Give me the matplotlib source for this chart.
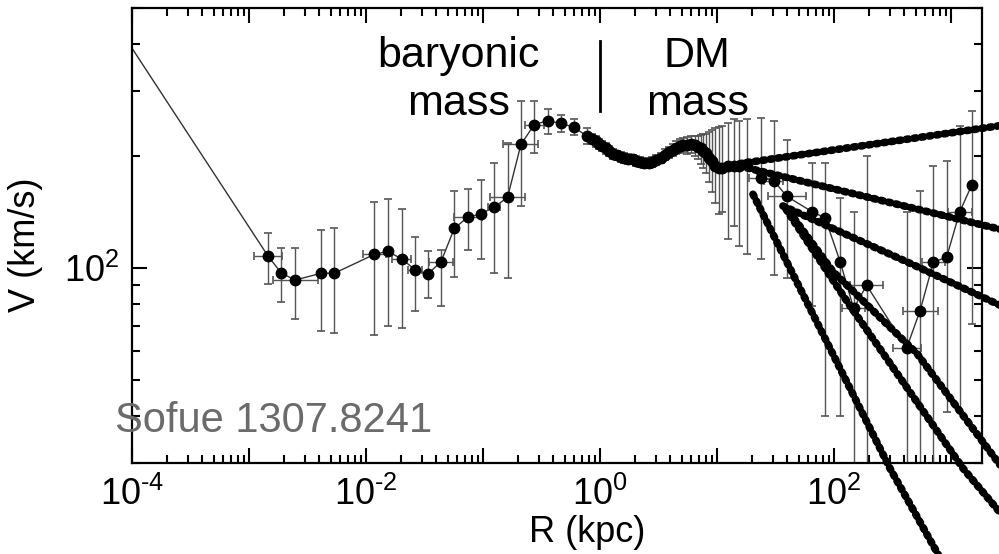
import numpy as np
import matplotlib.pyplot as plt
from matplotlib.ticker import LogLocator, FuncFormatter, NullFormatter

plt.rcParams['font.family'] = ['Liberation Sans', 'DejaVu Sans']
plt.rcParams['mathtext.fontset'] = 'custom'
plt.rcParams['mathtext.rm'] = 'Liberation Sans'
plt.rcParams['axes.unicode_minus'] = False

# --- Milky Way rotation curve (R in kpc, V in km/s) ---
# central black hole: Keplerian line from the innermost radius
bh_r = [1e-4]
bh_v = [390]

r_kpc = [1.45e-3, 1.89e-3, 2.49e-3, 4.15e-3, 5.38e-3, 1.18e-2, 1.53e-2, 2.02e-2,
         2.63e-2, 3.37e-2, 4.37e-2, 5.69e-2, 7.38e-2, 9.59e-2, 0.125, 0.162,
         0.211, 0.274, 0.356, 0.462, 0.60, 0.78,
         0.85, 0.92, 0.98, 1.05, 1.12, 1.2, 1.3, 1.4, 1.5, 1.6, 1.75, 1.9, 2.05,
         2.2, 2.4, 2.6, 2.8, 3.0, 3.3, 3.6, 3.9, 4.2, 4.5, 4.8, 5.1, 5.5, 6.0,
         6.5, 6.9, 7.3, 7.6, 8.0, 8.5, 9.0, 9.7, 10.4, 11.0, 12.3, 13.9, 15.3, 17.9,
         23.6, 30.5, 39.5, 64.6, 84, 113, 147, 190, 417, 544, 708, 916, 1190, 1500]
v_kms = [108, 97, 93, 97, 97, 109, 111, 106,
         99, 96.5, 104, 128, 137, 140, 146, 155,
         215, 243, 249, 245, 239, 226,
         222, 219, 216, 213, 210, 206, 203, 201, 199, 198, 197, 196, 194,
         193, 192, 192, 193, 195, 198, 202, 205, 208, 211, 213, 214, 214, 215,
         214, 212, 210, 207, 204, 198, 194, 188, 186, 186, 188, 188, 188, 190,
         175, 172, 156, 142, 136.5, 104, 78, 90, 61, 77, 104, 107, 142, 167]
v_lo = [91, 81, 73, 68, 67, 66, 70, 69,
        77, 83, 79, 95, 112, 106, 97, 94,
        147, 204, 230, 232, 228, 216,
        215, 212, 209, 206, 203, 200, 197, 195, 193, 192, 191, 190, 188,
        187, 186, 186, 187, 189, 192, 195, 198, 200, 203, 204, 205, 203, 204,
        200, 196, 190, 186, 180, 170, 160, 150, 140, 142, 120, 130, 115, 109,
        106, 96, 94, 79, 40, 40, 20, 20, 20, 20, 20, 41, 41, 71]
v_hi = [124, 113, 113, 127, 128, 151, 153, 144,
        121, 111, 112, 161, 163, 173, 192, 217,
        281, 281, 268, 258, 252, 238,
        229, 226, 223, 220, 217, 213, 209, 207, 205, 204, 203, 202, 200,
        199, 198, 198, 199, 201, 204, 209, 212, 216, 219, 222, 224, 225, 226,
        226, 227, 228, 229, 230, 232, 235, 238, 240, 241, 245, 251, 248, 251,
        253, 248, 221, 192, 192, 154, 142, 200, 142, 161, 188, 194, 241, 264]
# half width of the radial bins, in dex
r_dex = [0.12, 0, 0.19, 0, 0, 0.1, 0, 0.08,
         0.06, 0, 0.1, 0, 0.12, 0, 0.05, 0.15,
         0.15, 0.08, 0, 0, 0, 0,
         0, 0, 0, 0, 0, 0, 0, 0, 0, 0, 0, 0, 0,
         0, 0, 0, 0, 0, 0, 0, 0, 0, 0, 0, 0, 0, 0,
         0, 0, 0, 0, 0, 0, 0, 0, 0, 0, 0, 0, 0, 0,
         0.1, 0.08, 0.16, 0, 0, 0, 0.1, 0.14, 0.12, 0.15, 0.1, 0, 0.1, 0]

# halo model curves fanning out beyond ~20 kpc
model_a_r, model_a_v = [15.7, 3000], [191, 243]
model_b_r, model_b_v = [15.7, 3000], [188, 126]
model_c_r, model_c_v = [36.6, 421, 3000], [147, 104, 78]
model_d_r, model_d_v = [20.3, 301, 805], [158, 29, 16.7]
model_e_r, model_e_v = [38.9, 129, 1268, 3000], [144, 81.5, 29, 21]
model_f_r, model_f_v = [42, 98, 512, 3000], [141, 98, 59, 28]

fig = plt.figure(figsize=(9.99, 5.54), dpi=100)
ax = fig.add_axes([0.1321, 0.1643, 0.8509, 0.8213])
ax.set_xscale('log')
ax.set_yscale('log')

r = np.array(r_kpc)
v = np.array(v_kms)
dex = np.array(r_dex)

ax.plot(bh_r + r_kpc, bh_v + v_kms, color='#333333', lw=1.0, zorder=2)
ax.errorbar(r, v, yerr=[v - np.array(v_lo), np.array(v_hi) - v], fmt='none',
            ecolor='#555555', elinewidth=1.0, capsize=3, capthick=1.2, zorder=2)
m = dex > 0
ax.errorbar(r[m], v[m], xerr=[r[m] - r[m] * 10 ** -dex[m], r[m] * 10 ** dex[m] - r[m]],
            fmt='none', ecolor='#555555', elinewidth=1.0, capsize=3, capthick=1.2, zorder=2)
ax.plot(r, v, 'o', color='black', ms=7.5, zorder=3)

for mr, mv in [(model_a_r, model_a_v), (model_b_r, model_b_v), (model_c_r, model_c_v),
               (model_d_r, model_d_v), (model_e_r, model_e_v), (model_f_r, model_f_v)]:
    ax.plot(mr, mv, color='black', lw=5.5, linestyle=(0, (0.3, 0.7)),
            dash_capstyle='round', clip_on=False, zorder=4)

# boundary between baryon- and DM-dominated regions
ax.plot([1, 1], [264, 407], color='black', lw=2)

ax.set_xlim(1e-4, 1840)
ax.set_ylim(30, 500)


def decade_label(x, pos):
    k = int(round(np.log10(x)))
    if k % 2:
        return ''
    if k < 0:
        return '$\\mathdefault{10^{\u2010%d}}$' % (-k)
    return '$\\mathdefault{10^{%d}}$' % k


ax.xaxis.set_major_locator(LogLocator(base=10, numticks=20))
ax.xaxis.set_minor_locator(LogLocator(base=10, subs=np.arange(2, 10), numticks=20))
ax.xaxis.set_major_formatter(FuncFormatter(decade_label))
ax.xaxis.set_minor_formatter(NullFormatter())
ax.yaxis.set_minor_formatter(NullFormatter())

ax.tick_params(which='both', direction='in', top=True, right=True, width=1.5, labelsize=26)
ax.tick_params(which='major', length=11)
ax.tick_params(which='minor', length=6)
ax.tick_params(axis='x', pad=10)
ax.tick_params(axis='y', pad=9)
for s in ax.spines.values():
    s.set_linewidth(1.6)

ax.set_xlabel('R (kpc)', fontsize=26)
ax.xaxis.set_label_coords(0.536, -0.114)
ax.set_ylabel('V (km/s)', fontsize=26)
ax.yaxis.set_label_coords(-0.105, 0.479)

fig.text(458 / 999, 1 - 67 / 554, 'baryonic', ha='center', va='baseline', fontsize=31)
fig.text(459 / 999, 1 - 115 / 554, 'mass', ha='center', va='baseline', fontsize=31)
fig.text(697 / 999, 1 - 67 / 554, 'DM', ha='center', va='baseline', fontsize=31)
fig.text(698 / 999, 1 - 115 / 554, 'mass', ha='center', va='baseline', fontsize=31)
fig.text(115 / 999, 1 - 432 / 554, 'Sofue 1307.8241', ha='left', va='baseline',
         fontsize=30, color='#6b6b6b')

fig.savefig('out.png', dpi=100)
